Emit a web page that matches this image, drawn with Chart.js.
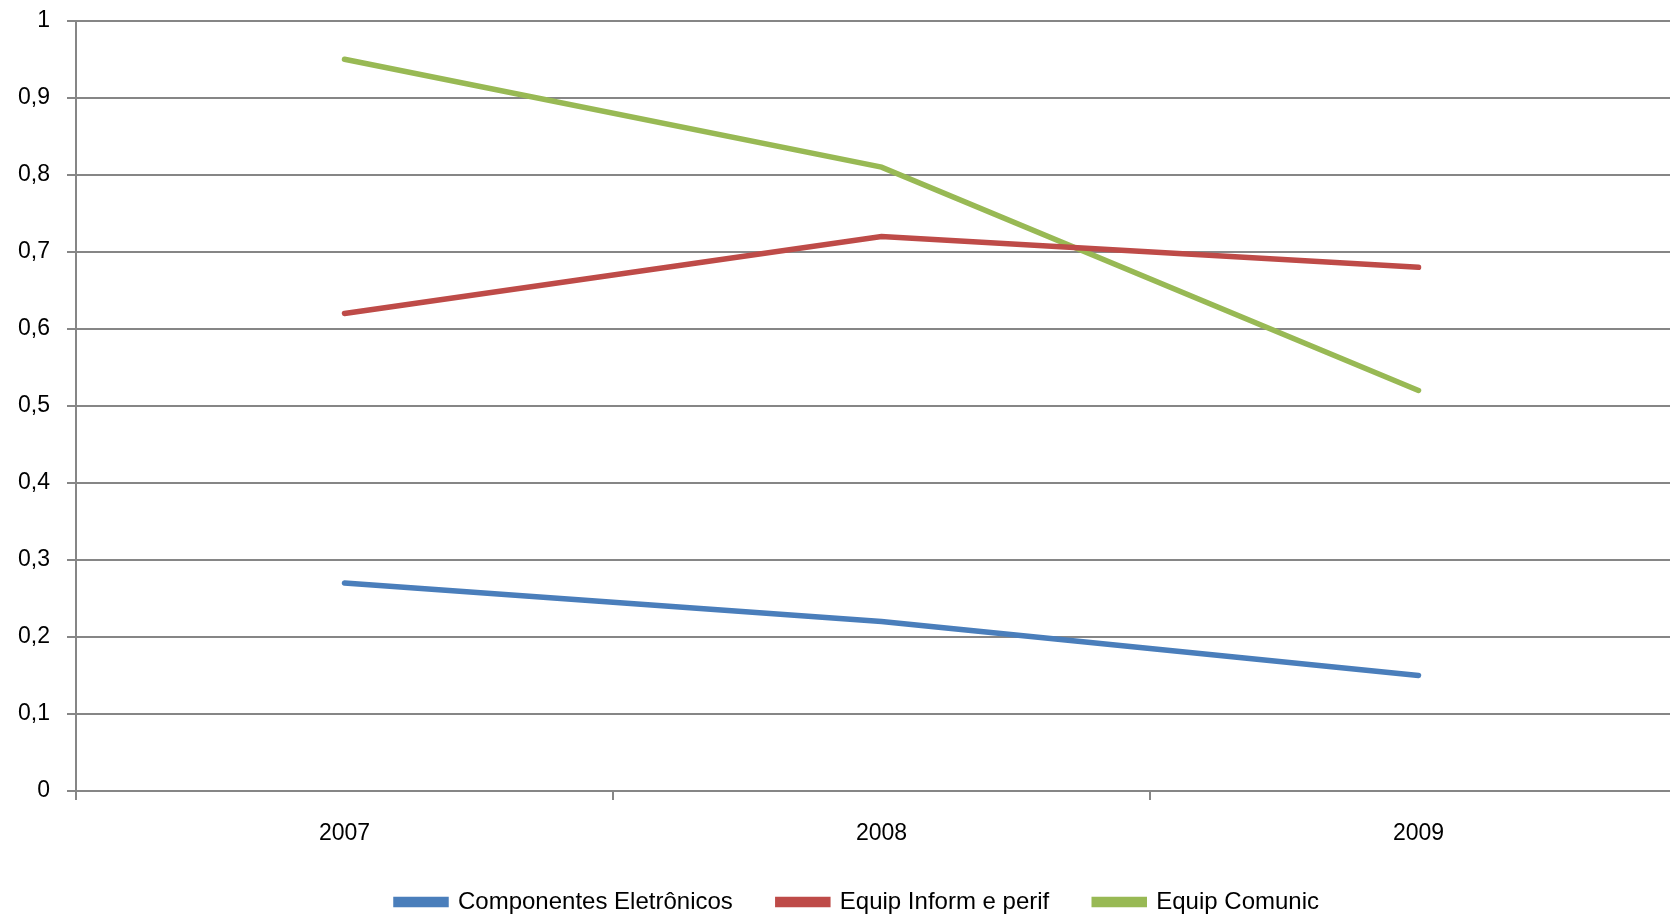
<!DOCTYPE html>
<html>
<head>
<meta charset="utf-8">
<script src="https://cdn.jsdelivr.net/npm/chart.js@4"></script>
<style>
  html, body { margin: 0; padding: 0; background: #fff; overflow: hidden; }
  #wrap { width: 1710px; height: 934px; margin-top: -10px; }
</style>
</head>
<body>
<div id="wrap"><canvas id="linechart" width="1710" height="934"></canvas></div>
<script>
const years = ['2007', '2008', '2009'];
const componentes = [0.27, 0.22, 0.15];
const equipInform = [0.62, 0.72, 0.68];
const equipComunic = [0.95, 0.81, 0.52];

const gridColor = '#868686';
const tickFont = { family: "'Liberation Sans', sans-serif", size: 23 };
const ctx = document.getElementById('linechart');

// nudge the legend a bit to the right, like the original
const legendShift = {
  id: 'legendShift',
  afterLayout(chart) {
    chart.legend.left += 14;
    chart.legend.right += 14;
  }
};

new Chart(ctx, {
  type: 'line',
  data: {
    labels: years,
    datasets: [
      { label: 'Componentes Eletrônicos', data: componentes, borderColor: '#4A7EBB', backgroundColor: '#4A7EBB' },
      { label: 'Equip Inform e perif', data: equipInform, borderColor: '#BE4B48', backgroundColor: '#BE4B48' },
      { label: 'Equip Comunic', data: equipComunic, borderColor: '#98B954', backgroundColor: '#98B954' }
    ]
  },
  plugins: [legendShift],
  options: {
    responsive: false,
    animation: false,
    layout: { padding: { top: 0, right: 23, left: 0, bottom: 0 } },
    elements: {
      line: { borderWidth: 5.5, tension: 0, borderCapStyle: 'round' },
      point: { radius: 0, hoverRadius: 0 }
    },
    plugins: {
      tooltip: { enabled: false },
      legend: {
        position: 'bottom',
        labels: {
          color: '#000',
          font: { family: "'Liberation Sans', sans-serif", size: 24 },
          boxWidth: 50,
          boxHeight: 5,
          padding: 45
        }
      }
    },
    scales: {
      x: {
        offset: true,
        grid: { offset: true, drawOnChartArea: false, drawTicks: true, tickLength: 9, color: gridColor, lineWidth: 2 },
        border: { color: gridColor, width: 2 },
        ticks: { color: '#000', padding: 20, font: tickFont },
        afterFit: s => { s.height = 54; }
      },
      y: {
        min: 0, max: 1,
        grid: { color: gridColor, lineWidth: 2, tickLength: 9 },
        border: { color: gridColor, width: 2 },
        ticks: {
          stepSize: 0.1,
          color: '#000',
          padding: 17,
          font: tickFont,
          callback: v => (Math.round(v * 10) / 10).toString().replace('.', ',')
        },
        afterFit: s => { s.width = 76; }
      }
    }
  }
});
</script>
</body>
</html>
